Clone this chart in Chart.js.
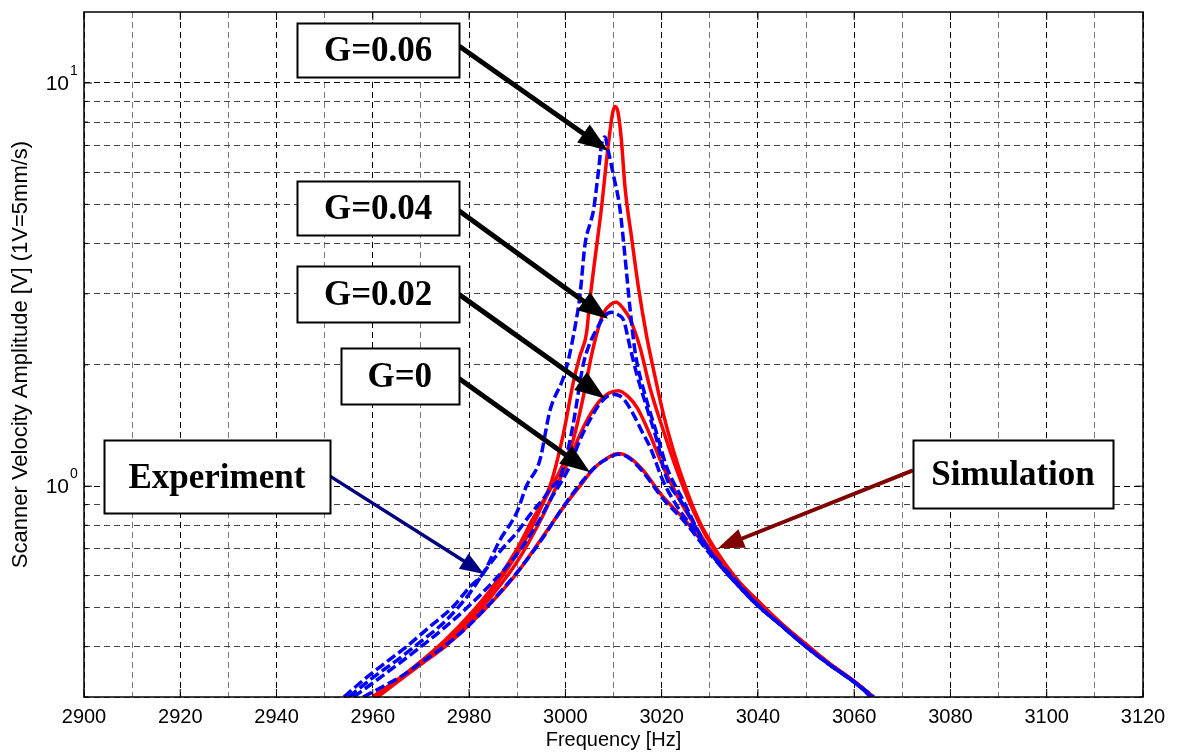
<!DOCTYPE html>
<html>
<head>
<meta charset="utf-8">
<title>Scanner velocity amplitude vs frequency</title>
<script src="https://cdn.jsdelivr.net/npm/chart.js@4.4.1/dist/chart.umd.min.js"></script>
<style>
  html, body { margin: 0; padding: 0; background: #fff; }
  #wrap { width: 1178px; height: 753px; }
</style>
</head>
<body>
<div id="wrap"><canvas id="c" width="1178" height="753"></canvas></div>
<script>
// ---- axis ticks ----
const xTickValues = [2900, 2910, 2920, 2930, 2940, 2950, 2960, 2970, 2980, 2990, 3000,
                     3010, 3020, 3030, 3040, 3050, 3060, 3070, 3080, 3090, 3100, 3110, 3120];
const yGridValues = [0.3, 0.4, 0.5, 0.6, 0.7, 0.8, 0.9, 1, 2, 3, 4, 5, 6, 7, 8, 9, 10];
const yLabelValues = [1, 10];
const yLabelExponents = ['0', '1'];

// ---- measured response, [frequency Hz, amplitude V] ----
const expG006 = [[2954,0.300],[2958,0.330],[2962,0.360],[2967,0.400],[2972,0.450],[2976.5,0.500],
  [2980,0.560],[2983,0.610],[2986.4,0.735],[2989.9,0.860],[2991.9,1.000],[2994.7,1.160],[2996.8,1.540],
  [2999.6,1.860],[3000.6,2.050],[3002,2.480],[3003,2.950],[3004.1,3.990],[3005.1,4.470],[3005.8,4.800],
  [3006.8,5.940],[3007.5,7.000],[3008.2,7.350],[3008.9,6.800],[3010.0,5.900],[3011.3,4.910],[3012.4,3.700],
  [3013.4,2.780],[3014.5,2.150],[3016.9,1.630],[3019,1.350],[3021,1.120],[3024.5,0.920],[3028.6,0.735],
  [3032,0.640],[3036,0.565],[3040,0.505],[3045,0.450],[3050,0.400],[3055,0.360],[3060,0.327],[3063.5,0.300]];
const expG004 = [[2955,0.300],[2960,0.335],[2965,0.370],[2970,0.412],[2975,0.462],[2980,0.540],
  [2983,0.610],[2986,0.680],[2990,0.770],[2993,0.860],[2995.4,0.930],[2997,0.990],[2998.9,1.050],
  [3000.3,1.200],[3001.6,1.420],[3003.7,2.000],[3005,2.250],[3006.5,2.450],[3008,2.630],[3009.6,2.700],
  [3011,2.660],[3012.1,2.580],[3013.4,2.220],[3014.8,1.900],[3016.9,1.570],[3019,1.300],[3021,1.050],
  [3024.5,0.900],[3028.6,0.730],[3032,0.640],[3036,0.565],[3040,0.505],[3045,0.450],[3050,0.400],
  [3055,0.360],[3060,0.327],[3064,0.300]];
const expG002 = [[2956,0.300],[2960,0.325],[2965,0.360],[2970,0.400],[2975,0.447],[2980,0.505],
  [2985,0.580],[2990,0.680],[2994,0.800],[2997,0.930],[3000.9,1.120],[3003,1.300],[3005.1,1.460],
  [3007.5,1.620],[3009.9,1.690],[3012,1.650],[3014.1,1.510],[3016,1.360],[3017.6,1.250],[3020.3,1.030],
  [3023,0.900],[3026,0.800],[3030,0.690],[3035,0.590],[3040,0.508],[3045,0.450],[3050,0.400],
  [3055,0.360],[3060,0.327],[3064,0.300]];
const expG000 = [[2958,0.300],[2962,0.318],[2966,0.338],[2970,0.365],[2975,0.402],[2980,0.452],
  [2985,0.522],[2990,0.612],[2995,0.735],[3000,0.905],[3003,1.010],[3006,1.110],[3009,1.175],
  [3011,1.200],[3013,1.180],[3016,1.090],[3020,0.940],[3025,0.810],[3030,0.680],[3035,0.585],
  [3040,0.508],[3045,0.450],[3050,0.400],[3055,0.360],[3060,0.326],[3064,0.298]];

// ---- simulated response, [frequency Hz, amplitude V] ----
const simG006 = [[2960,0.300],[2965,0.330],[2970,0.368],[2975,0.415],[2980,0.478],[2985,0.565],
  [2990,0.700],[2993,0.820],[2996.8,1.000],[2999.6,1.350],[3001.6,1.800],[3003,2.100],[3004.4,2.400],
  [3005.1,2.900],[3006.2,3.700],[3007.5,4.900],[3008.9,7.000],[3009.8,8.400],[3010.3,8.750],
  [3010.9,8.500],[3011.6,7.300],[3012.4,5.500],[3013.8,4.100],[3015.2,3.100],[3016.9,2.350],
  [3018.5,1.900],[3020.3,1.520],[3022.4,1.230],[3025,0.990],[3028,0.810],[3031.4,0.690],[3035,0.600],
  [3039,0.532],[3045,0.455],[3050,0.405],[3055,0.362],[3060,0.328],[3064,0.300]];
const simG004 = [[2960,0.300],[2965,0.330],[2970,0.367],[2975,0.412],[2980,0.472],[2985,0.555],
  [2990,0.680],[2993,0.790],[2996,0.940],[2999,1.100],[3001.6,1.300],[3003.7,1.660],[3005.8,2.210],
  [3007.9,2.680],[3009.5,2.830],[3010.6,2.860],[3012,2.760],[3013.4,2.600],[3015.5,2.210],[3017.6,1.750],
  [3020.3,1.380],[3023.1,1.100],[3026,0.900],[3029,0.760],[3032,0.670],[3036,0.580],[3040,0.520],
  [3045,0.455],[3050,0.405],[3055,0.362],[3060,0.328],[3064,0.300]];
const simG002 = [[2961,0.300],[2965,0.326],[2970,0.362],[2975,0.405],[2980,0.462],[2985,0.540],
  [2990,0.650],[2995,0.830],[2998,0.990],[3001,1.180],[3004,1.420],[3007,1.620],[3009,1.700],
  [3011,1.725],[3013,1.670],[3015,1.560],[3017.6,1.340],[3020,1.140],[3023,0.960],[3026,0.830],
  [3030,0.700],[3035,0.595],[3040,0.515],[3045,0.452],[3050,0.402],[3055,0.362],[3060,0.328],[3064,0.300]];
const simG000 = [[2960,0.300],[2965,0.330],[2970,0.362],[2975,0.400],[2980,0.453],[2985,0.520],
  [2990,0.610],[2995,0.740],[3000,0.900],[3003,1.000],[3006,1.110],[3009,1.180],[3011,1.205],
  [3013,1.185],[3016,1.100],[3020,0.950],[3025,0.820],[3030,0.690],[3035,0.590],[3040,0.510],
  [3045,0.450],[3050,0.400],[3055,0.362],[3060,0.328],[3064,0.300]];

// ---- callouts, anchored in data units (frequency, amplitude) ----
const calloutBoxes = [
  { text: 'G=0.06',     f: 2961.1, v: 12.07, w: 162, h: 54 },
  { text: 'G=0.04',     f: 2961.1, v: 4.90,  w: 162, h: 54 },
  { text: 'G=0.02',     f: 2961.1, v: 2.99,  w: 162, h: 56 },
  { text: 'G=0',        f: 2965.6, v: 1.872, w: 118, h: 56 },
  { text: 'Experiment', f: 2927.6, v: 1.056, w: 226, h: 73 },
  { text: 'Simulation', f: 3093.0, v: 1.071, w: 200, h: 68 }
];
const calloutArrows = [
  { from: [2977.9, 12.35], to: [3008.86, 6.79],  color: '#000000', width: 5, head: 30, half: 11 },
  { from: [2977.9, 4.82],  to: [3008.86, 2.60],  color: '#000000', width: 5, head: 30, half: 11 },
  { from: [2977.9, 2.99],  to: [3008.23, 1.65],  color: '#000000', width: 5, head: 30, half: 11 },
  { from: [2977.9, 1.85],  to: [3005.12, 1.083], color: '#000000', width: 5, head: 30, half: 11 },
  { from: [2951.1, 1.059], to: [2983.1, 0.606],  color: '#000080', width: 3.5, head: 24, half: 9 },
  { from: [3072.2, 1.095], to: [3031.7, 0.702],  color: '#800000', width: 4, head: 26, half: 10 }
];

const toXY = pts => pts.map(p => ({ x: p[0], y: p[1] }));
const expStyle = { borderColor: '#0000ff', borderWidth: 3.5, borderDash: [10, 4] };
const simStyle = { borderColor: '#ff0000', borderWidth: 3.5 };

function series(label, pts, style) {
  return Object.assign({
    label, data: toXY(pts), pointRadius: 0, fill: false,
    cubicInterpolationMode: 'monotone', borderCapStyle: 'butt'
  }, style);
}

const datasets = [
  series('Experiment G=0',    expG000, expStyle),
  series('Experiment G=0.02', expG002, expStyle),
  series('Experiment G=0.04', expG004, expStyle),
  series('Experiment G=0.06', expG006, expStyle),
  series('Simulation G=0',    simG000, simStyle),
  series('Simulation G=0.02', simG002, simStyle),
  series('Simulation G=0.04', simG004, simStyle),
  series('Simulation G=0.06', simG006, simStyle)
];

const SANS = '"Liberation Sans", Arial, Helvetica, sans-serif';
const SERIF = '"Liberation Serif", "Times New Roman", Times, serif';

// axes frame plus decade labels 10^0, 10^1
const framePlugin = {
  id: 'frame',
  afterDraw(chart) {
    const { ctx, chartArea: a, scales } = chart;
    ctx.save();
    ctx.strokeStyle = '#000';
    ctx.lineWidth = 1.5;
    ctx.strokeRect(a.left, a.top, a.right - a.left, a.bottom - a.top);
    // small inward tick marks
    ctx.lineWidth = 1;
    xTickValues.forEach(v => {
      if (v % 20 !== 0) return;
      const x = scales.x.getPixelForValue(v);
      ctx.beginPath();
      ctx.moveTo(x, a.bottom); ctx.lineTo(x, a.bottom - 8);
      ctx.moveTo(x, a.top); ctx.lineTo(x, a.top + 8);
      ctx.stroke();
    });
    yGridValues.forEach(v => {
      const y = scales.y.getPixelForValue(v);
      const len = (v === 1 || v === 10) ? 8 : 4;
      ctx.beginPath();
      ctx.moveTo(a.left, y); ctx.lineTo(a.left + len, y);
      ctx.moveTo(a.right, y); ctx.lineTo(a.right - len, y);
      ctx.stroke();
    });
    ctx.fillStyle = '#000';
    ctx.textBaseline = 'middle';
    yLabelValues.forEach((v, i) => {
      const y = scales.y.getPixelForValue(v);
      ctx.font = '21px ' + SANS;
      ctx.textAlign = 'right';
      ctx.fillText('10', a.left - 15, y + 1);
      ctx.font = '14px ' + SANS;
      ctx.textAlign = 'left';
      ctx.fillText(yLabelExponents[i], a.left - 14, y - 12);
    });
    ctx.restore();
  }
};

function drawArrow(ctx, x1, y1, x2, y2, color, width, head, half) {
  const dx = x2 - x1, dy = y2 - y1;
  const len = Math.hypot(dx, dy);
  const ux = dx / len, uy = dy / len;
  const bx = x2 - ux * head, by = y2 - uy * head;
  ctx.strokeStyle = color;
  ctx.fillStyle = color;
  ctx.lineWidth = width;
  ctx.lineCap = 'butt';
  ctx.beginPath();
  ctx.moveTo(x1, y1);
  ctx.lineTo(bx + ux * 2, by + uy * 2);
  ctx.stroke();
  ctx.beginPath();
  ctx.moveTo(x2, y2);
  ctx.lineTo(bx - uy * half, by + ux * half);
  ctx.lineTo(bx + uy * half, by - ux * half);
  ctx.closePath();
  ctx.fill();
}

const calloutPlugin = {
  id: 'callouts',
  afterDraw(chart) {
    const { ctx, scales } = chart;
    const px = f => scales.x.getPixelForValue(f);
    const py = v => scales.y.getPixelForValue(v);
    ctx.save();
    calloutArrows.forEach(a => {
      drawArrow(ctx, px(a.from[0]), py(a.from[1]), px(a.to[0]), py(a.to[1]), a.color, a.width, a.head, a.half);
    });
    calloutBoxes.forEach(b => {
      const cx = px(b.f), cy = py(b.v);
      const x = Math.round(cx - b.w / 2) + 0.5, y = Math.round(cy - b.h / 2) + 0.5;
      ctx.fillStyle = '#fff';
      ctx.fillRect(x, y, b.w, b.h);
      ctx.strokeStyle = '#000';
      ctx.lineWidth = 2;
      ctx.strokeRect(x, y, b.w, b.h);
      ctx.fillStyle = '#000';
      ctx.font = 'bold 35px ' + SERIF;
      ctx.textAlign = 'center';
      ctx.textBaseline = 'middle';
      ctx.fillText(b.text, cx, cy + 2);
    });
    ctx.restore();
  }
};

new Chart(document.getElementById('c'), {
  type: 'line',
  data: { datasets },
  options: {
    responsive: false,
    animation: false,
    devicePixelRatio: 1,
    layout: { padding: { left: 0, right: 35, top: 12, bottom: 0 } },
    plugins: { legend: { display: false }, tooltip: { enabled: false } },
    elements: { point: { radius: 0 }, line: { tension: 0 } },
    scales: {
      x: {
        type: 'linear', min: 2900, max: 3120,
        afterBuildTicks: s => { s.ticks = xTickValues.map(v => ({ value: v })); },
        afterFit: s => { s.height = 56; },
        grid: {
          color: c => (c.tick && c.tick.value % 20 === 0) ? '#000000' : '#777777',
          lineWidth: 1, drawTicks: false
        },
        border: { display: false, dash: [6, 4] },
        ticks: {
          autoSkip: false, maxRotation: 0, minRotation: 0, padding: 8, color: '#000',
          font: { family: SANS, size: 20 },
          callback: v => (v % 20 === 0 ? String(v) : '')
        },
        title: {
          display: true, text: 'Frequency [Hz]', color: '#000',
          font: { family: SANS, size: 20 }, padding: { top: 0, bottom: 1 }
        }
      },
      y: {
        type: 'logarithmic', min: 0.3, max: 15,
        afterBuildTicks: s => { s.ticks = yGridValues.map(v => ({ value: v, major: v === 1 || v === 10 })); },
        afterFit: s => { s.width = 84; },
        grid: {
          color: c => (c.tick && (c.tick.value === 1 || c.tick.value === 10)) ? '#000000' : '#444444',
          lineWidth: 1, drawTicks: false
        },
        border: { display: false, dash: [6, 4] },
        ticks: { display: false },
        title: {
          display: true, text: 'Scanner Velocity Amplitude [V] (1V=5mm/s)', color: '#000',
          font: { family: SANS, size: 22 }, padding: { top: 8, bottom: 0 }
        }
      }
    }
  },
  plugins: [framePlugin, calloutPlugin]
});
</script>
</body>
</html>
